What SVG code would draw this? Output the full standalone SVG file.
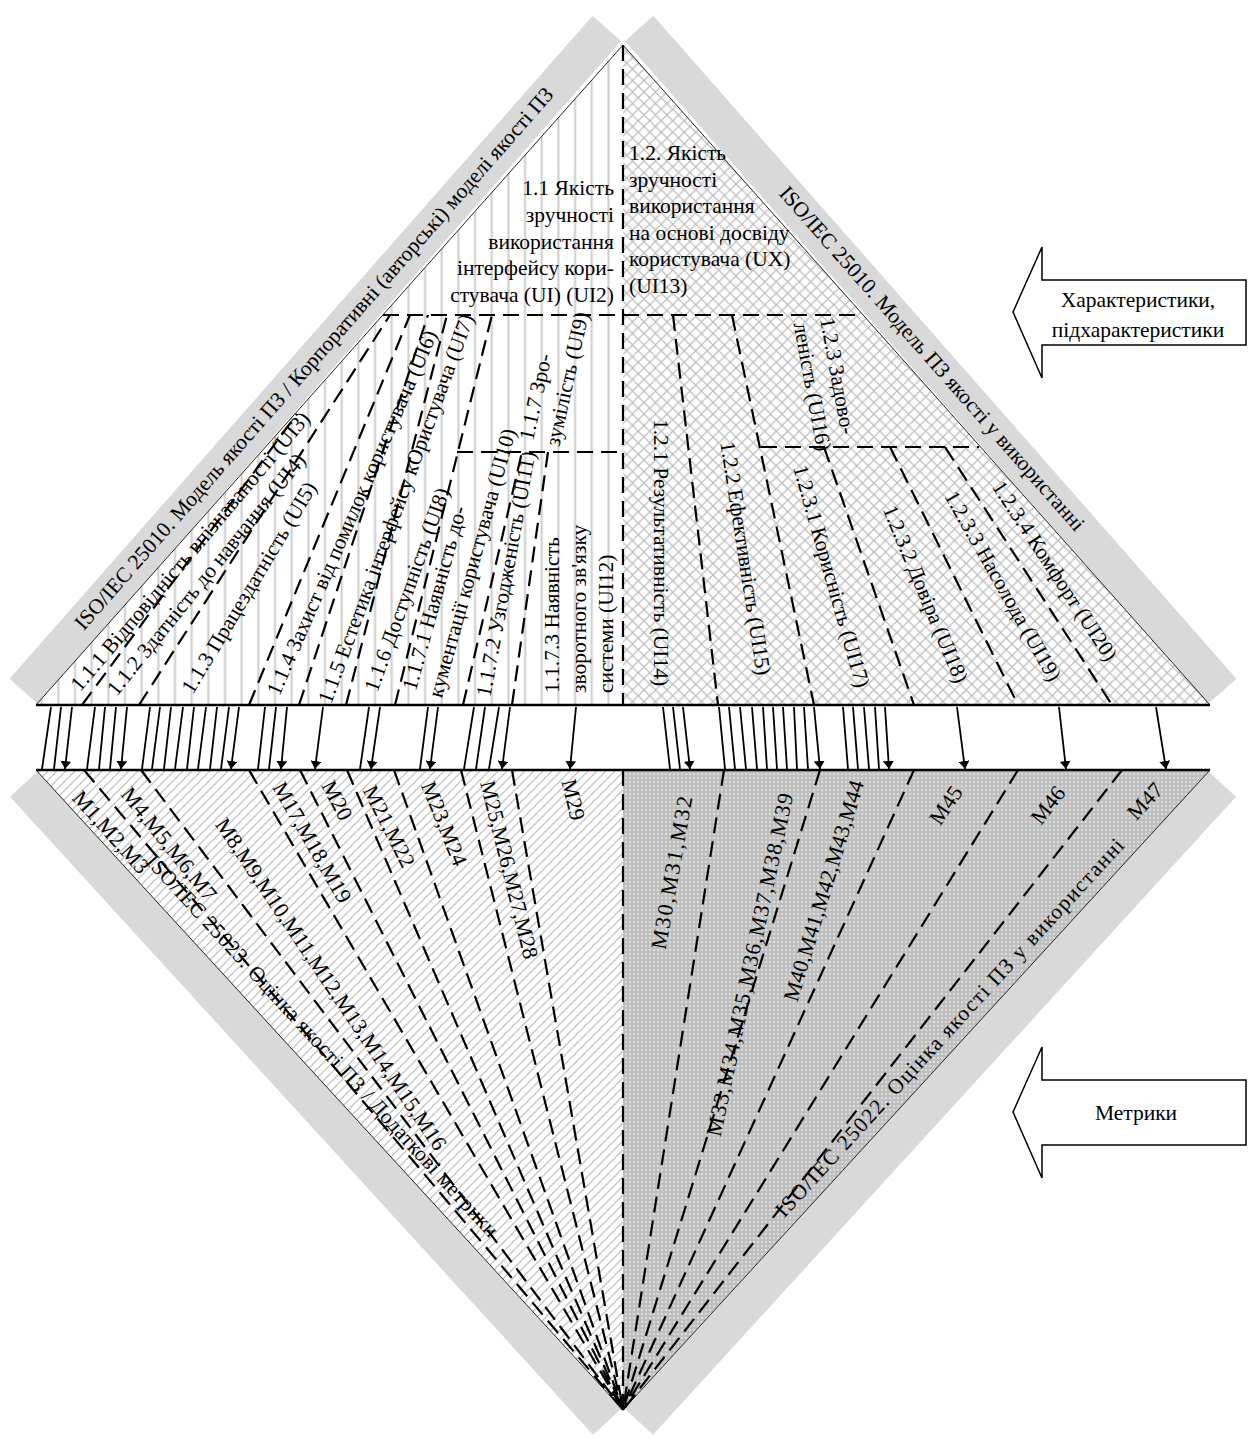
<svg xmlns="http://www.w3.org/2000/svg" width="1250" height="1439" viewBox="0 0 1250 1439">
<defs>
<style>
.t{font-family:"Liberation Serif","Times New Roman",serif;font-size:21.5px;fill:#000}
.m{font-family:"Liberation Serif","Times New Roman",serif;font-size:22px;fill:#000}
.d{fill:none;stroke:#000;stroke-width:2.2;stroke-dasharray:16 8}
.a{stroke:#000;stroke-width:1.8;marker-end:url(#ah)}
.band{fill:#d9d9d9}
.edge{fill:none;stroke:#222;stroke-width:1}
.base{stroke:#000;stroke-width:2.6}
.box{fill:#fff;stroke:#000;stroke-width:1.5}
</style>
<pattern id="pV" width="16.67" height="20" patternUnits="userSpaceOnUse"><rect width="16.67" height="20" fill="#fff"/><line x1="8.3" y1="0" x2="8.3" y2="20" stroke="#cccccc" stroke-width="2"/></pattern>
<pattern id="pX" width="11.5" height="11.5" patternUnits="userSpaceOnUse"><rect width="11.5" height="11.5" fill="#fff"/><path d="M0,0L11.5,11.5M11.5,0L0,11.5" stroke="#bdbdbd" stroke-width="1.2"/></pattern>
<pattern id="pD" width="9" height="9" patternUnits="userSpaceOnUse"><rect width="9" height="9" fill="#fff"/><path d="M-1,10L10,-1M-1,1L1,-1M8,10L10,8" stroke="#c6c6c6" stroke-width="1.3"/></pattern>
<pattern id="pO" width="4" height="4" patternUnits="userSpaceOnUse"><rect width="4" height="4" fill="#bfbfbf"/><circle cx="2" cy="2" r="1" fill="#e6e6e6"/></pattern>
<marker id="ah" markerUnits="userSpaceOnUse" viewBox="0 0 8 11" markerWidth="8" markerHeight="11" refX="8" refY="5.5" orient="auto"><path d="M0,0L8,5.5L0,11z" fill="#000"/></marker>
</defs>
<rect width="1250" height="1439" fill="#fff"/>

<g id="bands">
<polygon class="band" points="38,704 621,41 592.6,15.7 9.6,678.7"/>
<polygon class="band" points="1208,704 625,41 653.4,15.7 1236.4,678.7"/>
<polygon class="band" points="38,771 621,1409 593,1434.7 10,796.7"/>
<polygon class="band" points="1208,771 625,1409 653,1434.7 1236,796.7"/>
<text class="t" text-anchor="middle" transform="translate(314.3,358.9) rotate(-48.7)" y="6.5">ISO/IEC 25010. Модель якості ПЗ / Корпоративні (авторські) моделі якості ПЗ</text>
<text class="t" text-anchor="middle" transform="translate(931.7,358.9) rotate(48.7)" y="6.5">ISO/IEC 25010. Модель ПЗ якості у використанні</text>
</g>

<g id="upper-left">
<polygon points="36,705 623,45 623,705" fill="url(#pV)"/>
<line class="edge" x1="36" y1="705" x2="623" y2="45"/>
</g>
<g id="upper-right">
<polygon points="623,45 1210,705 623,705" fill="url(#pX)"/>
<line class="edge" x1="623" y1="45" x2="1210" y2="705"/>
</g>
<g id="lower-left">
<polygon points="36,770 623,770 623,1410" fill="url(#pD)"/>
<line class="edge" x1="36" y1="770" x2="623" y2="1410"/>
</g>
<g id="lower-right">
<polygon points="623,770 1210,770 623,1410" fill="url(#pO)"/>
<line class="edge" x1="1210" y1="770" x2="623" y2="1410"/>
</g>

<g id="dividers">
<path class="d" d="M623,45V705M383,315H862M457,452H623M761,447H979"/>
<path class="d" d="M82,705L297,414M139,705L390,315M249,705L410,315M299,705L428,315M346,705L447,315M395,705L492,315M463,705L522,452M512,705L548,452"/>
<path class="d" d="M673,315L718,705M732,315L814,705M824,447L914,705M890,447L1018,705M945,447L1112,705"/>
<path class="d" d="M623,770V1410M84,770L623,1410M141,770L623,1410M249,770L623,1410M300,770L623,1410M347,770L623,1410M394,770L623,1410M461,770L623,1410M512,770L623,1410"/>
<path class="d" d="M724,770L623,1410M820,770L623,1410M914,770L623,1410M1018,770L623,1410M1122,770L623,1410"/>
</g>

<g id="standards-lower">
<text class="t" text-anchor="middle" transform="translate(322,1046) rotate(47.5)" y="6.5" textLength="510" lengthAdjust="spacing">ISO/IEC 25023. Оцінка якості ПЗ / Додаткові метрики</text>
<text class="t" text-anchor="middle" transform="translate(950,1028) rotate(-47.5)" y="6.5" textLength="505" lengthAdjust="spacing">ISO/IEC 25022. Оцінка якості ПЗ у використанні</text>
</g>

<g id="characteristics">
<text class="t" text-anchor="end"><tspan x="614" y="195">1.1 Якість</tspan><tspan x="614" y="222">зручності</tspan><tspan x="614" y="248.5">використання</tspan><tspan x="614" y="275">інтерфейсу кори-</tspan><tspan x="614" y="302">стувача (UI) (UI2)</tspan></text>
<text class="t"><tspan x="629" y="160">1.2. Якість</tspan><tspan x="629" y="186.5">зручності</tspan><tspan x="629" y="213">використання</tspan><tspan x="629" y="239.5">на основі досвіду</tspan><tspan x="629" y="266">користувача (UX)</tspan><tspan x="629" y="292.5">(UI13)</tspan></text>
<text class="t" text-anchor="middle" transform="translate(191,552) rotate(-49.8)" y="6">1.1.1 Відповідність впізнаваності (UI3)</text>
<text class="t" text-anchor="middle" transform="translate(207,575) rotate(-51.2)" y="6">1.1.2 Здатність до навчання (UI4)</text>
<text class="t" text-anchor="middle" transform="translate(250,588) rotate(-59)" y="6">1.1.3 Працездатність (UI5)</text>
<text class="t" text-anchor="middle" transform="translate(353,513) rotate(-66.4)" y="6">1.1.4 Захист від помилок користувача (UI6)</text>
<text class="t" text-anchor="middle" transform="translate(397,509) rotate(-69.7)" y="6">1.1.5 Естетика інтерфейсу кОристувача (UI7)</text>
<text class="t" text-anchor="middle" transform="translate(408,590) rotate(-70.2)" y="6">1.1.6 Доступність (UI8)</text>
<text class="t" transform="translate(415.8,691.6) rotate(-74.5)"><tspan x="0" y="0">1.1.7.1 Наявність до-</tspan><tspan x="0" y="27">кументації користувача (UI10)</tspan></text>
<text class="t" text-anchor="middle" transform="translate(507,574) rotate(-79.5)" y="6">1.1.7.2 Узгодженість (UI11)</text>
<text class="t" transform="translate(559,693) rotate(-90)"><tspan x="0" y="0">1.1.7.3 Наявність</tspan><tspan x="0" y="27">зворотного зв'язку</tspan><tspan x="0" y="54">системи (UI12)</tspan></text>
<text class="t" transform="translate(532.9,441.3) rotate(-77.5)"><tspan x="0" y="0">1.1.7 Зро-</tspan><tspan x="0" y="27">зумілість (UI9)</tspan></text>
<text class="t" text-anchor="middle" transform="translate(660,552.5) rotate(90)" y="6">1.2.1 Результативність (UI14)</text>
<text class="t" text-anchor="middle" transform="translate(744.5,558.5) rotate(81.1)" y="6">1.2.2 Ефективність (UI15)</text>
<text class="t" transform="translate(820,319) rotate(79.5)"><tspan x="0" y="0">1.2.3 Задово-</tspan><tspan x="0" y="27">леність (UI16)</tspan></text>
<text class="t" text-anchor="middle" transform="translate(830.5,576.5) rotate(74)" y="6">1.2.3.1 Корисність (UI17)</text>
<text class="t" text-anchor="middle" transform="translate(924.5,594.5) rotate(67.4)" y="6">1.2.3.2 Довіра (UI18)</text>
<text class="t" text-anchor="middle" transform="translate(1002,586.5) rotate(60.5)" y="6">1.2.3.3 Насолода (UI19)</text>
<text class="t" text-anchor="middle" transform="translate(1054,571.5) rotate(56.8)" y="6">1.2.3.4 Комфорт (UI20)</text>
</g>

<g id="metrics">
<text class="m" text-anchor="middle" transform="translate(110,833) rotate(48.3)" y="6">M1,M2,M3</text>
<text class="m" text-anchor="middle" transform="translate(168,845) rotate(51.3)" y="6">M4,M5,M6,M7</text>
<text class="m" text-anchor="middle" transform="translate(330,985) rotate(56)" y="6">M8,M9,M10,M11,M12,M13,M14,M15,M16</text>
<text class="m" text-anchor="middle" transform="translate(311,843) rotate(60.1)" y="6">M17,M18,M19</text>
<text class="m" text-anchor="middle" transform="translate(336,801) rotate(62)" y="6">M20</text>
<text class="m" text-anchor="middle" transform="translate(388,827) rotate(63)" y="6">M21,M22</text>
<text class="m" text-anchor="middle" transform="translate(443,824) rotate(68)" y="6">M23,M24</text>
<text class="m" text-anchor="middle" transform="translate(508,870) rotate(76)" y="6">M25,M26,M27,M28</text>
<text class="m" text-anchor="middle" transform="translate(572,800) rotate(76)" y="6">M29</text>
<text class="m" text-anchor="middle" transform="translate(673,873) rotate(-80)" y="6" textLength="155" lengthAdjust="spacing">M30,M31,M32</text>
<text class="m" text-anchor="middle" transform="translate(751,965) rotate(-78)" y="6" textLength="350" lengthAdjust="spacing">M33,M34,M35,M36,M37,M38,M39</text>
<text class="m" text-anchor="middle" transform="translate(825,891) rotate(-73)" y="6">M40,M41,M42,M43,M44</text>
<text class="m" text-anchor="middle" transform="translate(947,806) rotate(-56)" y="6">M45</text>
<text class="m" text-anchor="middle" transform="translate(1049,806) rotate(-52)" y="6">M46</text>
<text class="m" text-anchor="middle" transform="translate(1146,802) rotate(-47)" y="6">M47</text>
</g>

<g id="base-lines">
<line class="base" x1="36" y1="705" x2="1210" y2="705"/>
<line class="base" x1="36" y1="770" x2="1210" y2="770"/>
</g>

<g id="connectors">
<path class="a" d="M51,707L42,769M61,707L54,769M72,707L65,769"/>
<path class="a" d="M95,707L87,769M105,707L99,769M116,707L110,769M127,707L121,769"/>
<path class="a" d="M150,707L142,769M160,707L152,769M171,707L164,769M183,707L175,769M194,707L187,769M206,707L198,769M217,707L210,769M229,707L221,769M239,707L231,769"/>
<path class="a" d="M265,707L258,769M276,707L269,769M287,707L281,769"/>
<path class="a" d="M323,707L315,769"/>
<path class="a" d="M369,707L360,769M380,707L371,769"/>
<path class="a" d="M428,707L420,769M438,707L430,769"/>
<path class="a" d="M474,707L464,769M485,707L476,769M499,707L489,769M510,707L502,769"/>
<path class="a" d="M576,707L570,769"/>
<path class="a" d="M663,707L670,769M673,707L680,769M683,707L690,769"/>
<path class="a" d="M719,707L725,769M729,707L735,769M740,707L746,769M752,707L757,769M763,707L767,769M773,707L777,769M783,707L787,769M794,707L797,769M804,707L808,769M814,707L820,769"/>
<path class="a" d="M843,707L848,769M853,707L858,769M864,707L869,769M875,707L879,769M885,707L889,769"/>
<path class="a" d="M957,707L965,769"/>
<path class="a" d="M1059,707L1066,769"/>
<path class="a" d="M1156,707L1166,769"/>
</g>

<g id="legend-characteristics">
<polygon class="box" points="1013,312 1042,247 1042,280 1246,280 1246,345 1042,345 1042,378"/>
<text class="t" text-anchor="middle"><tspan x="1138" y="307">Характеристики,</tspan><tspan x="1138" y="337">підхарактеристики</tspan></text>
</g>
<g id="legend-metrics">
<polygon class="box" points="1013,1112 1042,1047 1042,1080 1246,1080 1246,1145 1042,1145 1042,1178"/>
<text class="t" text-anchor="middle" x="1136" y="1120">Метрики</text>
</g>
</svg>
